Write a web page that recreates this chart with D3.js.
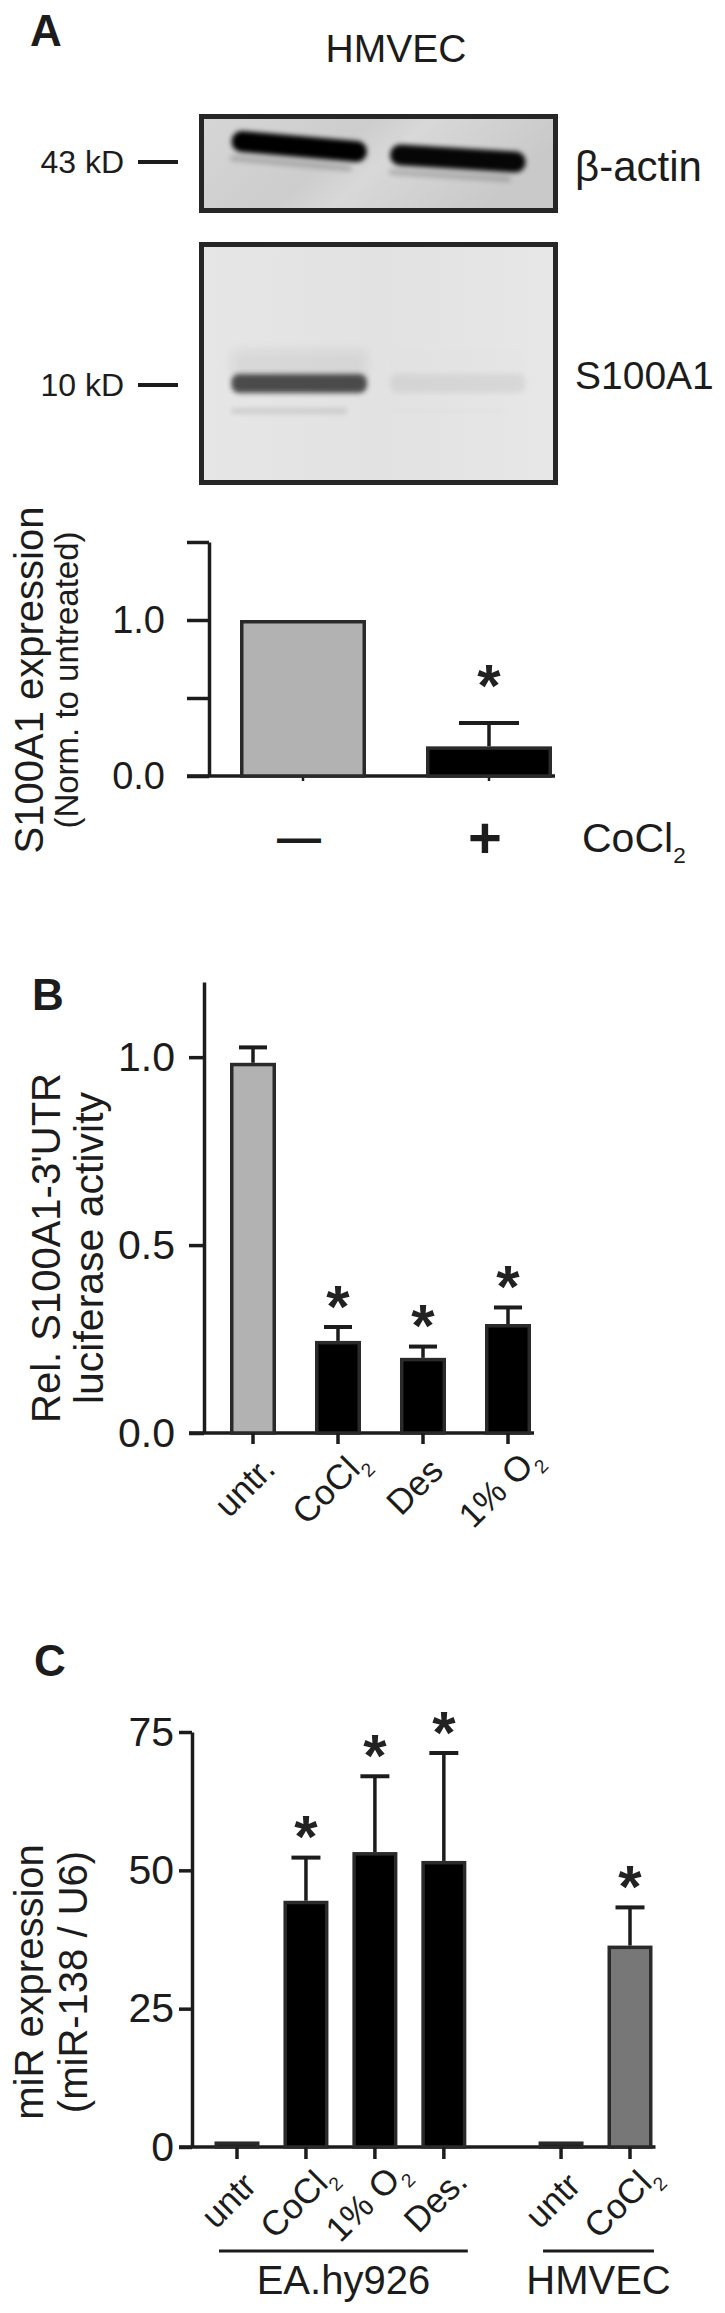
<!DOCTYPE html>
<html><head><meta charset="utf-8">
<script src="https://cdn.jsdelivr.net/npm/d3@7"></script>
<style>
html,body{margin:0;padding:0;background:#fff;}
svg{display:block;}
</style></head><body>
<svg id="fig" width="725" height="2313"></svg>
<script>
// ---------------- DATA ----------------
// Panel A: western blot (relative band intensities per lane)
const blotLanes = ["untreated", "CoCl2"];
const actinIntensity = [1.0, 0.97];
const s100a1Intensity = [0.80, 0.07];
const blotMarkers = ["43 kD", "10 kD"];
const blotProteins = ["β-actin", "S100A1"];

// Panel A: quantification
const aCategories = ["—", "+"];
const aValues = [1.0, 0.19];
const aErrors = [0, 0.15];
const aSignificant = [false, true];
const aTicks = [0, 0.5, 1.0, 1.5];
const aTickLabels = ["0.0", "", "1.0", ""];

// Panel B: luciferase activity
const bCategories = ["untr.", "CoCl₂", "Des", "1% O₂"];
const bValues = [0.985, 0.245, 0.20, 0.29];
const bErrors = [0.041, 0.037, 0.03, 0.044];
const bSignificant = [false, true, true, true];
const bTicks = [0, 0.5, 1.0];
const bTickLabels = ["0.0", "0.5", "1.0"];

// Panel C: miR-138 expression
const cCategories = ["untr", "CoCl₂", "1% O₂", "Des.", "untr", "CoCl₂"];
const cGroups = ["EA.hy926", "EA.hy926", "EA.hy926", "EA.hy926", "HMVEC", "HMVEC"];
const cValues = [1.0, 44.5, 53.3, 51.7, 1.0, 36.4];
const cErrors = [0, 7.8, 13.7, 19.5, 0, 6.9];
const cSignificant = [false, true, true, true, false, true];
const cTicks = [0, 25, 50, 75];
const cTickLabels = ["0", "25", "50", "75"];

// ---------------- HELPERS ----------------
const FONT = '"Liberation Sans", Arial, Helvetica, sans-serif';
const INK = "#1c1c1c";
const svg = d3.select("#fig").attr("font-family", FONT);
const defs = svg.append("defs");

function richText(sel, str, fs) {
  // render "₂" as a lowered small "2"
  const parts = str.split("₂");
  const sub = fs * 0.55, shift = fs * 0.28;
  parts.forEach((p, i) => {
    if (p) sel.append("tspan").attr("dy", i > 0 ? -shift : null).text(p);
    if (i < parts.length - 1) sel.append("tspan").attr("font-size", sub).attr("dy", shift).text("2");
  });
}

function panelLabel(t, x, y) {
  svg.append("text").attr("x", x).attr("y", y).attr("font-size", 44)
    .attr("font-weight", "bold").attr("fill", INK).text(t);
}

function yTitle(lines, cy) {
  lines.forEach(l => {
    svg.append("text").attr("transform", `translate(${l.x},${cy}) rotate(-90)`)
      .attr("text-anchor", "middle").attr("font-size", l.fs).attr("fill", INK).text(l.t);
  });
}

function drawYAxis(x0, y, ticks, labels, tickLen, pad, fs, sw) {
  const ax = d3.axisLeft(y).tickValues(ticks).tickFormat((d, i) => labels[i])
    .tickSize(tickLen).tickSizeOuter(0).tickPadding(pad);
  const a = svg.append("g").attr("transform", `translate(${x0},0)`).call(ax);
  a.attr("font-family", FONT).attr("font-size", fs);
  a.select(".domain").attr("stroke", INK).attr("stroke-width", sw);
  a.selectAll(".tick line").attr("stroke", INK).attr("stroke-width", sw);
  a.selectAll(".tick text").attr("fill", INK);
  return a;
}

function drawBars(items, y, bw, capW, sw, starGap, starFs) {
  const g = svg.append("g");
  const y0 = y(0);
  items.forEach(d => {
    const top = y(d.value);
    g.append("rect").attr("x", d.cx - bw / 2 + sw / 2).attr("y", top + sw / 2)
      .attr("width", bw - sw).attr("height", Math.max(0, y0 - top - sw / 2))
      .attr("fill", d.fill).attr("stroke", "#2a2a2a").attr("stroke-width", sw);
    if (d.err > 0) {
      const et = y(d.value + d.err);
      g.append("line").attr("x1", d.cx).attr("x2", d.cx).attr("y1", top).attr("y2", et)
        .attr("stroke", INK).attr("stroke-width", 3.5);
      g.append("line").attr("x1", d.cx - capW / 2).attr("x2", d.cx + capW / 2).attr("y1", et).attr("y2", et)
        .attr("stroke", INK).attr("stroke-width", 4);
    }
    if (d.sig) {
      const et = y(d.value + d.err);
      const cyStar = et - starGap;
      g.append("text").attr("x", d.cx).attr("y", cyStar + starFs * 0.56)
        .attr("text-anchor", "middle").attr("font-size", starFs).attr("font-weight", "bold")
        .attr("fill", "#222").text("*");
    }
  });
  return g;
}

// ---------------- PANEL A : BLOT ----------------
panelLabel("A", 30, 46);
svg.append("text").attr("x", 396).attr("y", 62).attr("text-anchor", "middle")
  .attr("font-size", 39).attr("fill", INK).text("HMVEC");

const boxL = 199, boxR = 558;
const boxes = [{top: 114, bot: 213}, {top: 242, bot: 485}];
const blotX = d3.scaleBand().domain(blotLanes).range([boxL + 5, boxR - 5])
  .paddingInner(0.1).paddingOuter(0.15);

const grad1 = defs.append("linearGradient").attr("id", "bg1").attr("x1", 0).attr("x2", 1).attr("y1", 0).attr("y2", 0.3);
[["0", "#d6d6d6"], ["0.45", "#cdcdcd"], ["0.6", "#d8d8d8"], ["1", "#c9c9c9"]].forEach(s =>
  grad1.append("stop").attr("offset", s[0]).attr("stop-color", s[1]));
const grad2 = defs.append("linearGradient").attr("id", "bg2").attr("x1", 0).attr("x2", 1);
[["0", "#e6e6e6"], ["0.5", "#e2e2e2"], ["1", "#e7e7e7"]].forEach(s =>
  grad2.append("stop").attr("offset", s[0]).attr("stop-color", s[1]));
const blur3 = defs.append("filter").attr("id", "blur3").attr("x", "-30%").attr("y", "-200%").attr("width", "160%").attr("height", "500%");
blur3.append("feGaussianBlur").attr("stdDeviation", 2.6);
const blur6 = defs.append("filter").attr("id", "blur6").attr("x", "-30%").attr("y", "-200%").attr("width", "160%").attr("height", "500%");
blur6.append("feGaussianBlur").attr("stdDeviation", 6);

boxes.forEach((b, i) => {
  defs.append("clipPath").attr("id", "clip" + i).append("rect")
    .attr("x", boxL + 4).attr("y", b.top + 4).attr("width", boxR - boxL - 8).attr("height", b.bot - b.top - 8);
  svg.append("rect").attr("x", boxL + 2.5).attr("y", b.top + 2.5).attr("width", boxR - boxL - 5)
    .attr("height", b.bot - b.top - 5).attr("fill", i === 0 ? "url(#bg1)" : "url(#bg2)");
});

// beta-actin bands
const gA = svg.append("g").attr("clip-path", "url(#clip0)");
blotLanes.forEach((lane, i) => {
  const cx = blotX(lane) + blotX.bandwidth() / 2;
  const w = blotX.bandwidth() * 0.95;
  const rowY = 147 + i * 12;
  const tilt = 5 - i * 1.5;
  const lg = gA.append("g").attr("transform", `translate(${cx},${rowY}) rotate(${tilt})`);
  lg.append("rect").attr("x", -w / 2).attr("y", 14).attr("width", w * 0.9).attr("height", 6).attr("rx", 3)
    .attr("fill", "#000").attr("opacity", 0.18 * actinIntensity[i]).attr("filter", "url(#blur3)");
  lg.append("rect").attr("x", -w / 2).attr("y", -11).attr("width", w).attr("height", 21).attr("rx", 10)
    .attr("fill", "#000").attr("opacity", actinIntensity[i]).attr("filter", "url(#blur3)");
});

// S100A1 bands
const gS = svg.append("g").attr("clip-path", "url(#clip1)");
blotLanes.forEach((lane, i) => {
  const cx = blotX(lane) + blotX.bandwidth() / 2;
  const w = blotX.bandwidth() * 0.95;
  const v = s100a1Intensity[i];
  gS.append("rect").attr("x", cx - w / 2).attr("y", 350).attr("width", w).attr("height", 28)
    .attr("fill", "#000").attr("opacity", 0.07 * v).attr("filter", "url(#blur6)");
  gS.append("rect").attr("x", cx - w / 2).attr("y", 408).attr("width", w * 0.85).attr("height", 6)
    .attr("fill", "#000").attr("opacity", 0.12 * v).attr("filter", "url(#blur3)");
  gS.append("rect").attr("x", cx - w / 2).attr("y", 374).attr("width", w).attr("height", 19).attr("rx", 8)
    .attr("fill", "#262626").attr("opacity", v).attr("filter", "url(#blur3)");
});

boxes.forEach(b => {
  svg.append("rect").attr("x", boxL + 2.5).attr("y", b.top + 2.5).attr("width", boxR - boxL - 5)
    .attr("height", b.bot - b.top - 5).attr("fill", "none").attr("stroke", "#262626").attr("stroke-width", 5);
});

// markers and protein labels
const markerY = [162, 385];
blotMarkers.forEach((m, i) => {
  svg.append("text").attr("x", 124).attr("y", markerY[i] + 11).attr("text-anchor", "end")
    .attr("font-size", 32).attr("fill", INK).text(m);
  svg.append("line").attr("x1", 138).attr("x2", 178).attr("y1", markerY[i]).attr("y2", markerY[i])
    .attr("stroke", INK).attr("stroke-width", 4);
});
const proteinY = [181, 389];
const proteinFs = [42, 39];
blotProteins.forEach((p, i) => {
  svg.append("text").attr("x", 575).attr("y", proteinY[i]).attr("font-size", proteinFs[i]).attr("fill", INK).text(p);
});

// ---------------- PANEL A : BAR CHART ----------------
const aAxisX = 209;
const aY = d3.scaleLinear().domain([0, 1.5]).range([776, 542]);
const aX = d3.scaleBand().domain(aCategories).range([aAxisX, 583]).paddingInner(0.3226).paddingOuter(0.1667);
drawYAxis(aAxisX, aY, aTicks, aTickLabels, 22, 22, 38, 3.5);
svg.append("line").attr("x1", aAxisX - 22).attr("x2", aX(aCategories[1]) + aX.bandwidth() + 3)
  .attr("y1", aY(0)).attr("y2", aY(0)).attr("stroke", INK).attr("stroke-width", 3.5);
aCategories.forEach(c => {
  const cx = aX(c) + aX.bandwidth() / 2;
  svg.append("line").attr("x1", cx).attr("x2", cx).attr("y1", aY(0)).attr("y2", aY(0) + 5)
    .attr("stroke", INK).attr("stroke-width", 2.5);
});
drawBars(aCategories.map((c, i) => ({
  cx: aX(c) + aX.bandwidth() / 2, value: aValues[i], err: aErrors[i], sig: aSignificant[i],
  fill: i === 0 ? "#b2b2b2" : "#000"
})), aY, aX.bandwidth(), 60, 3.5, 51, 60);
aCategories.forEach((c, i) => {
  const cx = aX(c) + aX.bandwidth() / 2 - 4;
  const fs = c === "+" ? 58 : 44;
  svg.append("text").attr("x", cx).attr("y", 839 + fs * 0.32).attr("text-anchor", "middle")
    .attr("font-size", fs).attr("font-weight", "bold").attr("fill", INK).text(c);
});
richText(svg.append("text").attr("x", 582).attr("y", 852).attr("font-size", 41).attr("fill", INK), "CoCl₂", 41);
yTitle([{t: "S100A1 expression", x: 43, fs: 40}, {t: "(Norm. to untreated)", x: 78, fs: 33}], 680);

// ---------------- PANEL B ----------------
panelLabel("B", 32, 1010);
const bAxisX = 204;
const bY = d3.scaleLinear().domain([0, 1.2]).range([1433, 982]);
const bX = d3.scaleBand().domain(bCategories).range([bAxisX + 0.5, 556.5]).paddingInner(0.4588).paddingOuter(0.3);
drawYAxis(bAxisX, bY, bTicks, bTickLabels, 15, 14, 41, 3.5);
const bRight = bX(bCategories[3]) + bX.bandwidth() + 3;
svg.append("line").attr("x1", bAxisX - 15).attr("x2", bRight).attr("y1", bY(0)).attr("y2", bY(0))
  .attr("stroke", INK).attr("stroke-width", 3.5);
drawBars(bCategories.map((c, i) => ({
  cx: bX(c) + bX.bandwidth() / 2, value: bValues[i], err: bErrors[i], sig: bSignificant[i],
  fill: i === 0 ? "#b2b2b2" : "#000"
})), bY, bX.bandwidth(), 28, 3.5, 34, 60);
bCategories.forEach(c => {
  const cx = bX(c) + bX.bandwidth() / 2;
  svg.append("line").attr("x1", cx).attr("x2", cx).attr("y1", bY(0)).attr("y2", bY(0) + 11)
    .attr("stroke", INK).attr("stroke-width", 3.5);
  const t = svg.append("text").attr("transform", `translate(${cx},${bY(0) + 62}) rotate(-45)`)
    .attr("text-anchor", "middle").attr("font-size", 35).attr("fill", INK);
  richText(t, c, 35);
});
yTitle([{t: "Rel. S100A1-3'UTR", x: 60, fs: 40}, {t: "luciferase activity", x: 103, fs: 41}], 1248);

// ---------------- PANEL C ----------------
panelLabel("C", 34, 1676);
const cAxisX = 192;
const cY = d3.scaleLinear().domain([0, 75]).range([2147, 1732]);
const groupNames = Array.from(new Set(cGroups));
const groupGap = 0.7;
const cSlots = cCategories.map((c, i) => i + groupNames.indexOf(cGroups[i]) * groupGap);
const cXs = d3.scaleLinear().domain([0, d3.max(cSlots)]).range([237, 630]);
const cBW = 45;
drawYAxis(cAxisX, cY, cTicks, cTickLabels, 13, 5, 41, 3.5);
svg.append("line").attr("x1", cAxisX - 13).attr("x2", cXs(d3.max(cSlots)) + cBW / 2 + 3)
  .attr("y1", cY(0)).attr("y2", cY(0)).attr("stroke", INK).attr("stroke-width", 3.5);
drawBars(cCategories.map((c, i) => ({
  cx: cXs(cSlots[i]), value: cValues[i], err: cErrors[i], sig: cSignificant[i],
  fill: (cGroups[i] === "HMVEC" && c !== "untr") ? "#777777" : "#000"
})), cY, cBW, 29, 3.5, 34, 60);
cCategories.forEach((c, i) => {
  const cx = cXs(cSlots[i]);
  svg.append("line").attr("x1", cx).attr("x2", cx).attr("y1", cY(0)).attr("y2", cY(0) + 12)
    .attr("stroke", INK).attr("stroke-width", 3.5);
  const t = svg.append("text").attr("transform", `translate(${cx},${cY(0) + 62}) rotate(-45)`)
    .attr("text-anchor", "middle").attr("font-size", 35).attr("fill", INK);
  richText(t, c, 35);
});
groupNames.forEach(gname => {
  const xs = cSlots.filter((s, i) => cGroups[i] === gname).map(s => cXs(s));
  const x1 = d3.min(xs) - 18, x2 = d3.max(xs) + 24;
  svg.append("line").attr("x1", x1).attr("x2", x2).attr("y1", 2251).attr("y2", 2251)
    .attr("stroke", INK).attr("stroke-width", 3);
  svg.append("text").attr("x", (x1 + x2) / 2).attr("y", 2294).attr("text-anchor", "middle")
    .attr("font-size", 40).attr("fill", INK).text(gname);
});
yTitle([{t: "miR expression", x: 43, fs: 40}, {t: "(miR-138 / U6)", x: 87, fs: 40}], 1982);
</script>
</body></html>
